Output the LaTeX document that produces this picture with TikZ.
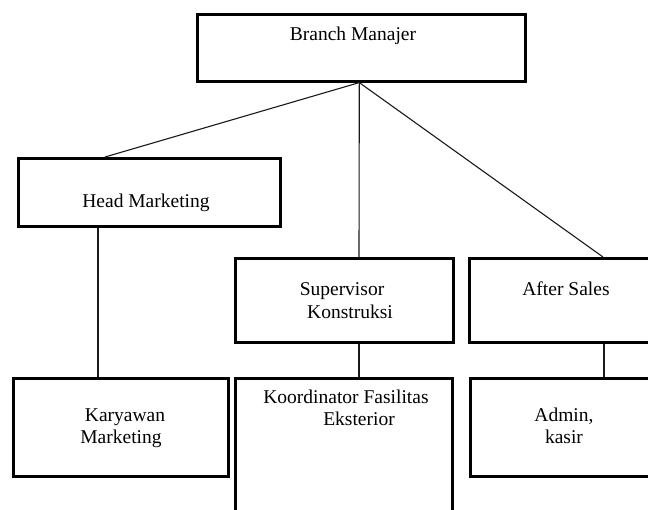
\documentclass[tikz,border=0pt]{standalone}
\usepackage{fontspec}
\setmainfont{Liberation Serif}
\usetikzlibrary{calc}
\begin{document}
\begin{tikzpicture}[x=1pt,y=-1pt,
  box/.style={draw=black,line width=2.6pt,rectangle,anchor=north west,inner sep=0pt,fill=none},
  conn/.style={draw=black!90,line width=1.1pt},
  lbl/.style={anchor=base,inner sep=0pt,font=\fontsize{19.5}{23}\selectfont}]
\useasboundingbox (0,0) rectangle (648,509);
\clip (0,0) rectangle (648,509);
% boxes
\node[box,minimum width=328pt,minimum height=67pt] (bm) at (196,13) {};
\node[box,minimum width=262pt,minimum height=68pt] (hm) at (17,157) {};
\node[box,minimum width=218pt,minimum height=84pt] (sk) at (234,257) {};
\node[box,minimum width=200pt,minimum height=84pt] (as) at (468,257) {};
\node[box,minimum width=215pt,minimum height=98pt] (km) at (12,377) {};
\node[box,minimum width=217pt,minimum height=150pt] (kf) at (234,377) {};
\node[box,minimum width=200pt,minimum height=98pt] (ak) at (469,377) {};
% labels
\node[lbl] (tbm) at (353,40) {Branch Manajer};
\node[lbl] (thm) at (146,207) {Head Marketing};
\node[lbl] (tsk1) at (342,295) {Supervisor};
\node[lbl] (tsk2) at (350,318) {Konstruksi};
\node[lbl] (tas) at (566,295) {After Sales};
\node[lbl] (tkf1) at (346,403) {Koordinator Fasilitas};
\node[lbl] (tkf2) at (359,425) {Eksterior};
\node[lbl] (tkm1) at (125,421) {Karyawan};
\node[lbl] (tkm2) at (121,443) {Marketing};
\node[lbl] (tak1) at (564,421) {Admin,};
\node[lbl] (tak2) at (564,443) {kasir};
% connection points
\coordinate (bmS) at ($(bm.south)+(-2,0)$);
\coordinate (hmN) at ($(hm.north west)+(88,0)$);
\coordinate (hmS) at ($(hm.south west)+(81,0)$);
\coordinate (kmN) at ($(km.north west)+(86,0)$);
\coordinate (skN) at ($(sk.north west)+(125,0)$);
\coordinate (skS) at ($(sk.south west)+(125,0)$);
\coordinate (kfN) at ($(kf.north west)+(125,0)$);
\coordinate (asN) at ($(as.north west)+(135,0)$);
\coordinate (asS) at ($(as.south west)+(136,0)$);
\coordinate (akN) at ($(ak.north west)+(135,0)$);
% connectors
\draw[conn] (bmS) -- (hmN);
\draw[conn] (bmS) -- (skN);
\draw[conn] (bmS) -- (asN);
\draw[conn] (hmS) -- (kmN);
\draw[conn] (skS) -- (kfN);
\draw[conn] (asS) -- (akN);
\end{tikzpicture}
\end{document}
